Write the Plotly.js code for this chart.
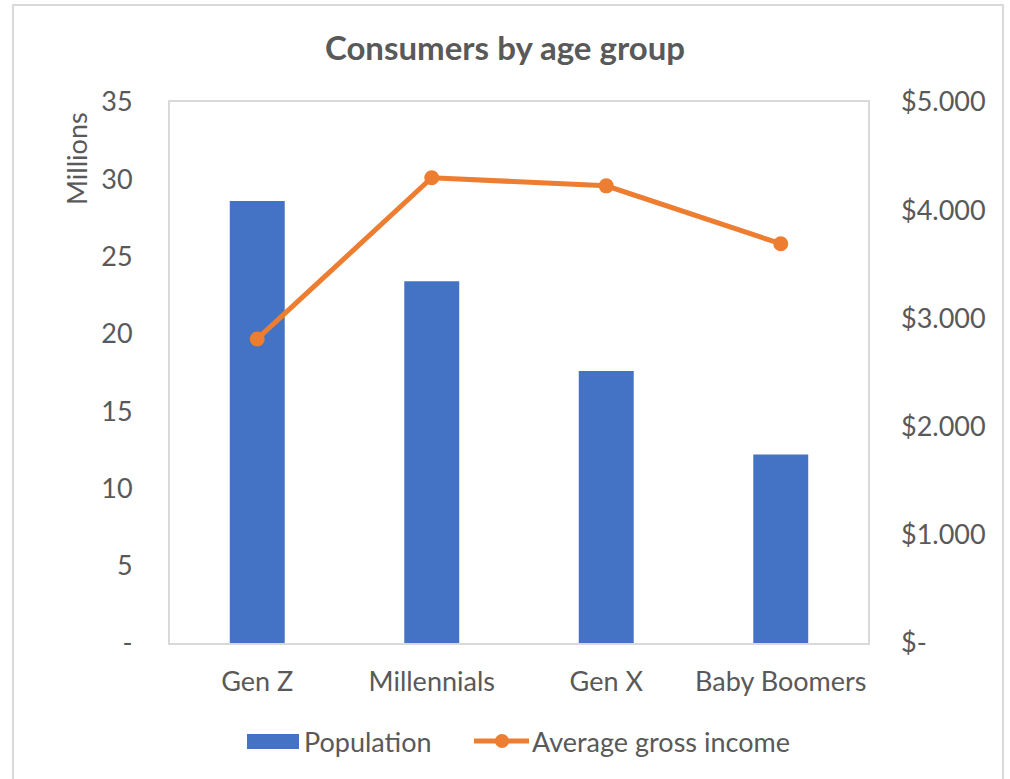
<!DOCTYPE html>
<html>
<head>
<meta charset="utf-8">
<script src="https://cdn.plot.ly/plotly-3.0.1.min.js"></script>
<style>
html,body{margin:0;padding:0;background:#fff;}
#wrap{position:relative;width:1010px;height:779px;}
#chart{position:absolute;left:0;top:0;width:1010px;height:779px;}
#frame{position:absolute;left:12px;top:4px;width:992px;height:790px;border:2px solid #d9d9d9;pointer-events:none;box-sizing:border-box;}
</style>
</head>
<body>
<div id="wrap"><div id="chart"></div><div id="frame"></div></div>
<script>
const categories = ["Gen Z", "Millennials", "Gen X", "Baby Boomers"];
const population = [28.6, 23.4, 17.6, 12.2];
const avgIncome = [2810, 4300, 4225, 3690];
const leftTickVals = [0, 5, 10, 15, 20, 25, 30, 35];
const leftTickText = ["-", "5", "10", "15", "20", "25", "30", "35"];
const rightTickVals = [0, 1000, 2000, 3000, 4000, 5000];
const rightTickText = ["$-", "$1.000", "$2.000", "$3.000", "$4.000", "$5.000"];
const seriesNames = ["Population", "Average gross income"];

const FONT = "Lato, 'Open Sans', sans-serif";
const TXT = "#595959";
const BLUE = "#4472C4", ORANGE = "#ED7D31";

// plot area in pixels: l=170, r=868, t=102, b=643
const PL = 170, PR = 868, PT = 102, PB = 643;
const px = v => (v - PL) / (PR - PL);
const py = v => (PB - v) / (PB - PT);

const traces = [
  {
    type: "bar", name: seriesNames[0], x: categories, y: population,
    marker: {color: BLUE}, yaxis: "y"
  },
  {
    type: "scatter", mode: "lines+markers", name: seriesNames[1],
    x: categories, y: avgIncome, yaxis: "y2",
    line: {color: ORANGE, width: 5},
    marker: {color: ORANGE, size: 15}
  }
];

const LY = 741;
const layout = {
  width: 1010, height: 779,
  margin: {l: PL, r: 1010 - PR, t: PT, b: 779 - PB},
  paper_bgcolor: "#fff", plot_bgcolor: "#fff",
  font: {family: FONT, color: TXT, size: 27},
  title: {text: "<b>Consumers by age group</b>", font: {size: 33, color: TXT, family: FONT},
          x: 0.5, xanchor: "center", y: 1 - 48/779, yanchor: "middle", yref: "container"},
  bargap: 0.685,
  showlegend: false,
  xaxis: {
    type: "category", showgrid: false, zeroline: false,
    showline: true, mirror: true, linecolor: "#d9d9d9", linewidth: 2,
    ticks: "", tickfont: {size: 27, color: TXT}, ticklabelstandoff: 14
  },
  yaxis: {
    range: [0, 35], tickvals: leftTickVals, ticktext: leftTickText,
    showgrid: false, zeroline: false,
    showline: true, mirror: true, linecolor: "#d9d9d9", linewidth: 2,
    ticks: "", tickfont: {size: 27, color: TXT}, ticklabelstandoff: 30
  },
  yaxis2: {
    overlaying: "y", side: "right", range: [0, 5000],
    tickvals: rightTickVals, ticktext: rightTickText,
    showgrid: false, zeroline: false, showline: false,
    ticks: "", tickfont: {size: 27, color: TXT}, ticklabelstandoff: 32
  },
  shapes: [
    {type: "rect", xref: "paper", yref: "paper", x0: px(247), x1: px(299), y0: py(749), y1: py(734),
     fillcolor: BLUE, line: {width: 0}},
    {type: "line", xref: "paper", yref: "paper", x0: px(474), x1: px(529), y0: py(LY), y1: py(LY),
     line: {color: ORANGE, width: 5}},
    {type: "circle", xref: "paper", yref: "paper", x0: px(495), x1: px(509), y0: py(LY + 7), y1: py(LY - 7),
     fillcolor: ORANGE, line: {width: 0}}
  ],
  annotations: [
    {text: "Millions", xref: "paper", yref: "paper",
     x: px(76), y: py(159), xanchor: "center", yanchor: "middle",
     textangle: -90, showarrow: false, font: {size: 27, color: TXT, family: FONT}},
    {text: seriesNames[0], xref: "paper", yref: "paper", x: px(302), y: py(LY),
     xanchor: "left", yanchor: "middle", showarrow: false, font: {size: 27, color: TXT, family: FONT}},
    {text: seriesNames[1], xref: "paper", yref: "paper", x: px(530), y: py(LY),
     xanchor: "left", yanchor: "middle", showarrow: false, font: {size: 27, color: TXT, family: FONT}}
  ]
};

Plotly.newPlot("chart", traces, layout, {displayModeBar: false, staticPlot: true});
</script>
</body>
</html>
